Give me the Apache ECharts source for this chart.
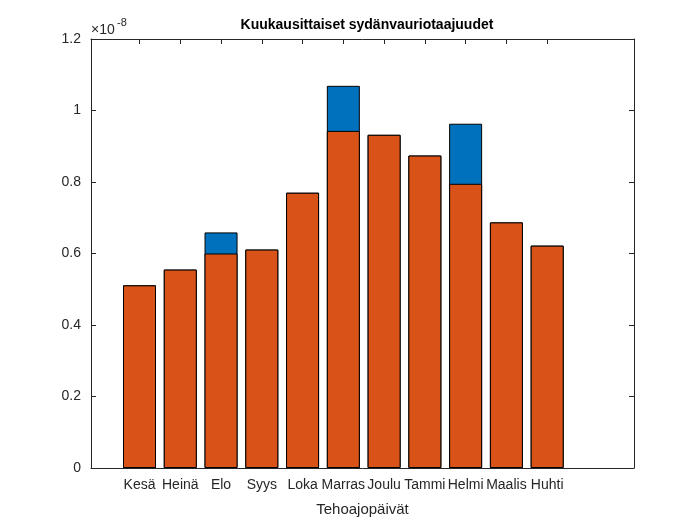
<!DOCTYPE html><html><head><meta charset="utf-8"><script src="https://cdn.jsdelivr.net/npm/echarts@6/dist/echarts.min.js"></script></head><body style="margin:0;background:#fff"><div id="c" style="width:700px;height:525px"></div><script>
const categories=['Kesä','Heinä','Elo','Syys','Loka','Marras','Joulu','Tammi','Helmi','Maalis','Huhti'];
const baseValues=[0.511,0.555,0.600,0.611,0.770,0.943,0.932,0.874,0.795,0.687,0.622];
const topValues=[0.511,0.555,0.659,0.611,0.770,1.069,0.932,0.874,0.963,0.687,0.622];
const yTicks=[0,0.2,0.4,0.6,0.8,1,1.2];
const OFF=1.19;
const pos=categories.map((c,i)=>OFF+i);
const f='Liberation Sans, Arial, sans-serif';
const ch=echarts.init(document.getElementById('c'));
const line={show:true,onZero:false,lineStyle:{color:'#262626'}};
const tick={show:true,inside:true,length:5,lineStyle:{color:'#262626'}};
ch.setOption({animation:false,
title:{text:'Kuukausittaiset sydänvauriotaajuudet',left:362,top:13,textAlign:'center',textStyle:{fontFamily:f,fontSize:14,fontWeight:'bold',color:'#000'}},
graphic:[{type:'text',left:91,top:23,style:{text:'×10',font:'14px '+f,fill:'#262626'}},{type:'text',left:117,top:17,style:{text:'-8',font:'11px '+f,fill:'#262626'}}],
grid:{left:91,right:66,top:39,bottom:57},
xAxis:[{type:'value',min:0,max:13.32,position:'bottom',axisLine:line,splitLine:{show:false},
 axisTick:{...tick,customValues:pos},
 axisLabel:{customValues:pos,color:'#262626',fontFamily:f,fontSize:14,margin:10,formatter:v=>{const i=Math.round(v-OFF);return categories[i]||'';}},
 name:'Tehoajopäivät',nameLocation:'middle',nameGap:34,nameTextStyle:{fontFamily:f,fontSize:15,color:'#262626'}},
 {type:'value',min:0,max:13.32,position:'top',axisLine:line,splitLine:{show:false},axisTick:{...tick,customValues:pos},axisLabel:{show:false}}],
yAxis:[{type:'value',min:0,max:1.2,interval:0.2,position:'left',axisLine:line,axisTick:tick,splitLine:{show:false},axisLabel:{color:'#262626',fontFamily:f,fontSize:14,margin:10,formatter:v=>String(Math.round(v*10)/10)}},
 {type:'value',min:0,max:1.2,interval:0.2,position:'right',axisLine:line,axisTick:tick,splitLine:{show:false},axisLabel:{show:false}}],
series:[
 {type:'bar',data:pos.map((p,i)=>[p,topValues[i]]),barWidth:33,barGap:'-100%',itemStyle:{color:'#0072BD',borderColor:'#000',borderWidth:1},z:2},
 {type:'bar',data:pos.map((p,i)=>[p,baseValues[i]]),barWidth:33,barGap:'-100%',itemStyle:{color:'#D95319',borderColor:'#000',borderWidth:1},z:3}
]});
</script></body></html>
